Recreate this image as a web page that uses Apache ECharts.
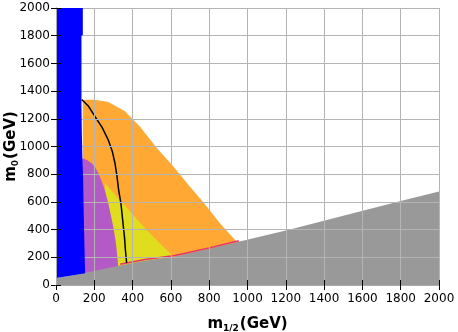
<!DOCTYPE html>
<html>
<head>
<meta charset="utf-8">
<script src="https://cdn.jsdelivr.net/npm/echarts@6/dist/echarts.min.js"></script>
<style>
  html, body { margin: 0; padding: 0; background: #fff; }
  #main { width: 458px; height: 332px; }
</style>
</head>
<body>
<div id="main"></div>
<script>
// axis range (GeV)
var axisMin = 0, axisMax = 2000, axisStep = 200;

// region edges, [m1/2, m0]
var grayEdge = [[0, 50], [100, 72], [335, 140], [465, 175], [621, 205], [943, 308], [1222, 400], [1500, 500], [1800, 606], [2000, 675]];
var blueEdge = [[0, 2000], [140, 2000], [140, 1805], [133, 1800], [133, 1300], [135, 1100], [138, 900], [141, 800], [145, 500], [150, 200], [152, 85]];
var orangeEdge = [[140, 1338], [200, 1337], [273, 1322], [360, 1255], [440, 1140], [526, 990], [613, 855], [700, 710], [770, 595], [856, 445], [943, 313], [955, 300]];
var yellowEdge = [[256, 734], [334, 614], [395, 518], [465, 409], [534, 313], [595, 229], [620, 205]];
var purpleEdge = [[134, 915], [160, 905], [186, 879], [204, 850], [220, 810], [239, 750], [256, 680], [273, 590], [287, 500], [299, 421], [310, 330], [317, 253], [322, 180], [325, 130]];
var blackCurve = [[134, 1340], [170, 1290], [204, 1215], [240, 1140], [273, 1047], [295, 960], [308, 879], [318, 790], [327, 686], [339, 590], [351, 430], [358, 340], [362, 260], [366, 200], [369, 160]];
var pinkEdge = [[335, 150], [465, 184], [621, 213], [800, 268], [943, 316], [955, 318]];

function downTo0(edge) {
  return [[edge[0][0], 0]].concat(edge, [[edge[edge.length - 1][0], 0]]);
}

var grayPoly = [[0, 0]].concat(grayEdge, [[2000, 0]]);
var bluePoly = blueEdge.concat(grayEdge.filter(function (p) { return p[0] <= 152; }).reverse());

function polygon(name, pts, color, z) {
  return {
    type: 'custom',
    name: name,
    z: z,
    silent: true,
    data: pts,
    renderItem: function (params, api) {
      if (params.dataIndex !== 0) return null;
      return {
        type: 'polygon',
        shape: { points: pts.map(function (p) { return api.coord(p); }) },
        style: { fill: color }
      };
    }
  };
}

var font = 'DejaVu Sans';
var tickStyle = { show: true, inside: true, length: 5, lineStyle: { color: '#000', width: 1 } };
var frameLine = { show: true, lineStyle: { color: '#aaaaaa', width: 1 } };
var gridLine = { show: true, lineStyle: { color: '#b4b4b4', width: 1 } };
var plain = function (v) { return String(v); };
var nameRich = {
  m: { fontSize: 15, fontWeight: 'bold', fontFamily: font, color: '#000' },
  s: { fontSize: 9, fontWeight: 'bold', fontFamily: font, color: '#000', padding: [9, 1, 0, 0] },
  g: { fontSize: 15, fontWeight: 'bold', fontFamily: font, color: '#000' }
};

var chart = echarts.init(document.getElementById('main'));

var option = {
  animation: false,
  backgroundColor: '#fff',
  grid: { left: 56, right: 19, top: 8, bottom: 47, outerBoundsMode: 'none', containLabel: false },
  xAxis: [{
    type: 'value', min: axisMin, max: axisMax, interval: axisStep, position: 'bottom', z: 3,
    axisLine: frameLine, axisTick: tickStyle, splitLine: gridLine,
    axisLabel: { color: '#000', fontSize: 12, fontFamily: font, margin: 8, formatter: plain },
    name: '{m|m}{s|1/2}{g|(GeV)}', nameLocation: 'middle', nameGap: 30, nameMoveOverlap: false,
    nameTextStyle: { rich: nameRich }
  }, {
    type: 'value', min: axisMin, max: axisMax, interval: axisStep, position: 'top', z: 5,
    axisLine: frameLine, axisTick: tickStyle, splitLine: { show: false }, axisLabel: { show: false }
  }],
  yAxis: [{
    type: 'value', min: axisMin, max: axisMax, interval: axisStep, position: 'left', z: 5,
    axisLine: frameLine, axisTick: tickStyle, splitLine: { show: false },
    axisLabel: { color: '#000', fontSize: 12, fontFamily: font, margin: 6, formatter: plain },
    name: '{m|m}{s|0}{g|(GeV)}', nameLocation: 'middle', nameGap: 36, nameRotate: 90, nameMoveOverlap: false,
    nameTextStyle: { rich: nameRich }
  }, {
    type: 'value', min: axisMin, max: axisMax, interval: axisStep, position: 'right', z: 3,
    axisLine: frameLine, axisTick: tickStyle, splitLine: gridLine, axisLabel: { show: false }
  }],
  series: [
    polygon('orange', downTo0(orangeEdge), '#ffa833', 1),
    polygon('yellow', downTo0(yellowEdge), '#e0dc1e', 1),
    polygon('purple', downTo0(purpleEdge), '#b45ac6', 1),
    polygon('gray', grayPoly, '#999999', 1),
    {
      type: 'line', data: pinkEdge, z: 2, symbol: 'none', silent: true,
      lineStyle: { color: '#e8336a', width: 1.5 }
    },
    {
      type: 'line', data: blackCurve, z: 2, symbol: 'none', silent: true,
      lineStyle: { color: '#000', width: 1.5 }
    },
    polygon('blue', bluePoly, '#0000ff', 4)
  ]
};

chart.setOption(option);
</script>
</body>
</html>
